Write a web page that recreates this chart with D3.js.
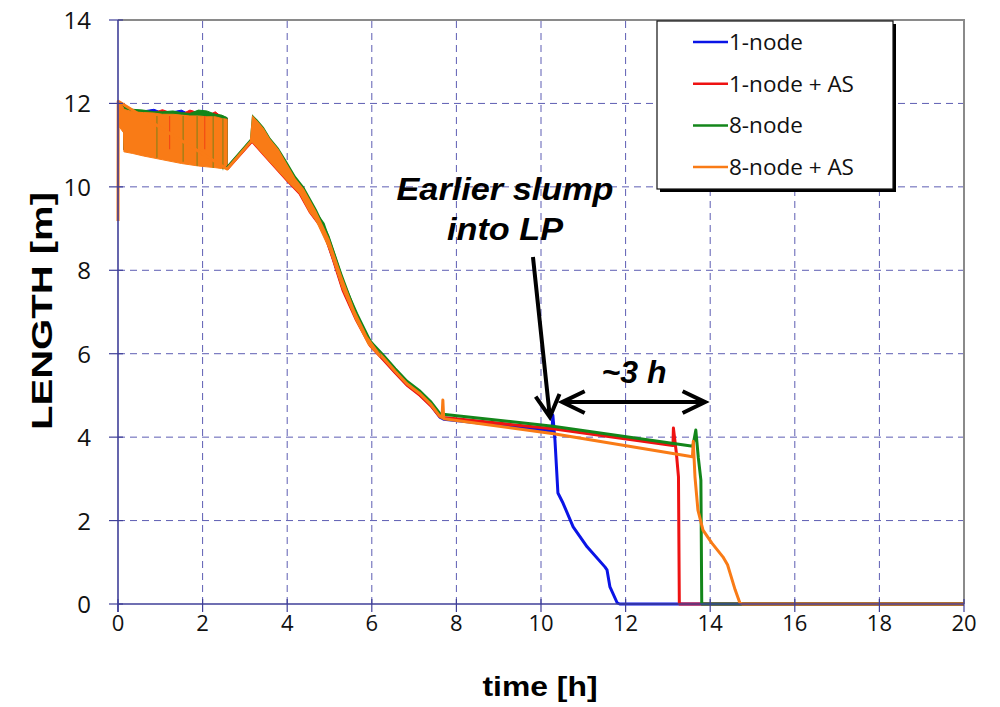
<!DOCTYPE html>
<html>
<head>
<meta charset="utf-8">
<script src="https://cdn.jsdelivr.net/npm/d3@7"></script>
<style>
  body { margin: 0; background: #fff; }
  svg { display: block; }
</style>
</head>
<body>
<svg id="chart" width="1000" height="707"></svg>
<script>
// ---------------- data ----------------
const xTicks = [0, 2, 4, 6, 8, 10, 12, 14, 16, 18, 20];
const yTicks = [0, 2, 4, 6, 8, 10, 12, 14];

const seriesNames  = ["1-node", "1-node + AS", "8-node", "8-node + AS"];
const seriesColors = ["#0a14e6", "#ee1212", "#13861a", "#f97b16"];

// oscillating start (0 - 2.6 h): envelope of the sawtooth, per series
const bandT      = [0.00, 0.02, 0.13, 0.14, 0.35, 0.6, 0.85, 1.05, 1.3, 1.5, 1.7, 1.9, 2.1, 2.3, 2.45, 2.58];
const bandTopB   = [12.05, 12.06, 11.95, 11.9, 11.84, 11.82, 11.86, 11.78, 11.8, 11.84, 11.74, 11.76, 11.7, 11.72, 11.66, 11.65];
const bandTopR   = [12.05, 12.05, 11.93, 11.9, 11.83, 11.8, 11.78, 11.85, 11.76, 11.74, 11.84, 11.78, 11.7, 11.8, 11.68, 11.64];
const bandTopG   = [12.05, 12.05, 11.94, 11.92, 11.86, 11.84, 11.8, 11.8, 11.82, 11.78, 11.76, 11.84, 11.82, 11.74, 11.72, 11.66];
const bandTopO   = [12.06, 12.05, 11.9, 11.86, 11.8, 11.78, 11.77, 11.74, 11.74, 11.72, 11.7, 11.7, 11.68, 11.68, 11.64, 11.62];
const bandBotO   = [11.5, 11.45, 11.3, 10.84, 10.8, 10.74, 10.69, 10.65, 10.6, 10.56, 10.53, 10.5, 10.48, 10.46, 10.44, 10.43];

// darker vertical strokes through the oscillating band (8-node / 1-node + AS)
const spikeT     = [0.92, 1.22, 1.54, 1.87, 2.05, 2.25, 2.48];
const spikeLow   = [10.7, 10.9, 10.6, 10.5, 10.9, 10.45, 10.4];
const spikeSer   = [2, 1, 2, 2, 1, 2, 2];

// sawtooth band after the peak (3.1 - 6.2 h)
const peakT      = [3.12, 3.17, 3.3, 3.45, 3.6, 3.8, 4.0, 4.2, 4.4, 4.7, 5.0, 5.3, 5.6, 5.9, 6.2];
const peakTop    = [11.15, 11.72, 11.58, 11.4, 11.15, 10.9, 10.55, 10.2, 9.95, 9.4, 8.75, 7.85, 7.05, 6.42, 6.0];
const peakTopG   = [11.15, 11.74, 11.61, 11.43, 11.18, 10.93, 10.6, 10.26, 10.0, 9.46, 8.82, 7.92, 7.1, 6.45, 6.02];
const peakBot    = [11.08, 11.1, 10.96, 10.8, 10.64, 10.44, 10.18, 9.96, 9.74, 9.15, 8.5, 7.6, 6.85, 6.25, 5.92];

// main curves after the oscillating start: [time h, length m]
const line1node = [
  [2.58, 10.45], [3.17, 11.12], [3.5, 10.76], [4.0, 10.2], [4.3, 9.88], [4.54, 9.44],
  [4.85, 9.0], [5.09, 8.28], [5.32, 7.56], [5.64, 6.84], [5.96, 6.22], [6.27, 5.88],
  [6.55, 5.56], [6.83, 5.26], [7.14, 5.02], [7.4, 4.76], [7.61, 4.48], [7.7, 4.43],
  [10.26, 4.15], [10.28, 4.53], [10.33, 3.93], [10.40, 2.66], [10.52, 2.42],
  [10.76, 1.85], [11.09, 1.37], [11.51, 0.89], [11.56, 0.82], [11.63, 0.41],
  [11.80, 0.03], [11.86, 0], [20, 0]
];
const line1nodeAS = [
  [2.58, 10.43], [3.17, 11.1], [3.5, 10.72], [4.0, 10.16], [4.3, 9.84], [4.54, 9.4],
  [4.85, 8.98], [5.09, 8.26], [5.32, 7.52], [5.64, 6.8], [5.96, 6.2], [6.27, 5.86],
  [6.55, 5.55], [6.83, 5.25], [7.14, 5.0], [7.4, 4.75], [7.61, 4.49], [7.7, 4.47],
  [10.28, 4.2], [13.12, 3.8], [13.13, 4.22], [13.2, 3.62], [13.25, 3.05],
  [13.27, 0], [20, 0]
];
const line8node = [
  [2.58, 10.46], [3.17, 11.15], [3.5, 10.8], [4.0, 10.28], [4.3, 9.98], [4.54, 9.55],
  [4.85, 9.12], [5.09, 8.42], [5.32, 7.7], [5.64, 6.96], [5.96, 6.3], [6.27, 5.96],
  [6.55, 5.64], [6.83, 5.34], [7.14, 5.1], [7.4, 4.84], [7.61, 4.56], [7.68, 4.55],
  [10.28, 4.26], [13.59, 3.78], [13.66, 4.17], [13.72, 3.5], [13.78, 2.97],
  [13.80, 0], [20, 0]
];
const line8nodeAS = [
  [0.0, 9.18], [0.005, 12.05],
  [2.58, 10.43], [3.17, 11.12], [3.5, 10.74], [4.0, 10.18], [4.3, 9.88], [4.54, 9.42],
  [4.85, 9.02], [5.09, 8.3], [5.32, 7.58], [5.64, 6.86], [5.96, 6.24], [6.27, 5.9],
  [6.55, 5.58], [6.83, 5.28], [7.14, 5.04], [7.4, 4.78], [7.61, 4.5], [7.66, 4.47],
  [7.68, 4.89], [7.70, 4.44], [10.3, 4.08], [13.58, 3.53], [13.6, 3.9], [13.64, 3.05],
  [13.71, 2.25], [13.83, 1.77], [14.04, 1.46], [14.30, 1.13], [14.41, 0.94],
  [14.47, 0.74], [14.59, 0.34], [14.70, 0.03], [14.76, 0], [20, 0]
];

// annotations, in data units
const slumpArrow  = [[9.81, 8.32], [10.21, 4.48]];
const spanArrow   = [[10.5, 4.84], [13.88, 4.84]];
const slumpText   = ["Earlier slump", "into LP"];
const slumpTextAt = [[9.15, 9.69], [9.15, 8.73]];
const slumpTextW  = [217, 116];
const spanText    = "~3 h";
const spanTextAt  = [12.2, 5.3];

// ------------------- layout -------------------
const svg = d3.select("#chart");
const width = 1000, height = 707;
const margin = {left: 118, right: 36, top: 20, bottom: 103};

const x = d3.scaleLinear().domain([0, 20]).range([margin.left, width - margin.right]);
const y = d3.scaleLinear().domain([0, 14]).range([height - margin.bottom, margin.top]);

const gridColor = "#5d5db3";
const axisColor = "#3f3f98";

// gridlines
svg.append("g").selectAll("line.vg")
  .data(xTicks.filter(d => d > 0 && d < 20))
  .enter().append("line")
    .attr("x1", d => x(d)).attr("x2", d => x(d))
    .attr("y1", y(0)).attr("y2", y(14))
    .attr("stroke", gridColor).attr("stroke-width", 1)
    .attr("stroke-dasharray", "7,5");

svg.append("g").selectAll("line.hg")
  .data(yTicks.filter(d => d > 0 && d < 14))
  .enter().append("line")
    .attr("x1", x(0)).attr("x2", x(20))
    .attr("y1", d => y(d)).attr("y2", d => y(d))
    .attr("stroke", gridColor).attr("stroke-width", 1)
    .attr("stroke-dasharray", "7,5");

// top + right frame (grey)
svg.append("path")
  .attr("d", "M" + x(0) + "," + y(14) + "H" + x(20) + "V" + y(0))
  .attr("fill", "none").attr("stroke", "#8a8a8a").attr("stroke-width", 2);

// ------------------- data marks -------------------
const area = d3.area()
  .x(d => x(d[0])).y0(d => y(d[1])).y1(d => y(d[2]));
const line = d3.line()
  .x(d => x(d[0])).y(d => y(d[1]));

const bandTops = [bandTopB, bandTopR, bandTopG, bandTopO];
const lines = [line1node, line1nodeAS, line8node, line8nodeAS];
const plot = svg.append("g");

// oscillating band, drawn per series so the under-lying ones peek out on top
bandTops.forEach(function(tops, i) {
  plot.append("path")
    .datum(bandT.map((t, k) => [t, bandBotO[k] + (i < 3 ? 0.05 : 0), tops[k]]))
    .attr("d", area)
    .attr("fill", seriesColors[i])
    .attr("stroke", seriesColors[i]).attr("stroke-width", 1);
});

// spikes through the band
plot.selectAll("line.spike")
  .data(spikeT.map((t, k) => ({t: t, low: spikeLow[k], s: spikeSer[k]})))
  .enter().append("line")
    .attr("x1", d => x(d.t)).attr("x2", d => x(d.t))
    .attr("y1", d => y(11.7)).attr("y2", d => y(d.low))
    .attr("stroke", d => seriesColors[d.s])
    .attr("stroke-width", 1.2).attr("opacity", 0.45);

// main curves
plot.selectAll("path.series")
  .data(lines)
  .enter().append("path")
    .attr("class", "series")
    .attr("d", line)
    .attr("fill", "none")
    .attr("stroke", (d, i) => seriesColors[i])
    .attr("stroke-width", 3)
    .attr("stroke-linejoin", "round");

// sawtooth band after the peak, on top of the lines (as in the picture)
plot.append("path")
  .datum(peakT.map((t, k) => [t, peakBot[k], peakTopG[k]]))
  .attr("d", area).attr("fill", seriesColors[2]);
plot.append("path")
  .datum(peakT.map((t, k) => [t, peakBot[k] - 0.03, peakTop[k]]))
  .attr("d", area).attr("fill", seriesColors[3]);

// ------------------- axes -------------------
svg.append("line")
  .attr("x1", x(0)).attr("x2", x(20)).attr("y1", y(0)).attr("y2", y(0))
  .attr("stroke", axisColor).attr("stroke-width", 1.6);
svg.append("line")
  .attr("x1", x(0)).attr("x2", x(0)).attr("y1", y(0) + 8).attr("y2", y(14))
  .attr("stroke", axisColor).attr("stroke-width", 1.6);

svg.append("g").selectAll("line")
  .data(xTicks).enter().append("line")
    .attr("x1", d => x(d)).attr("x2", d => x(d))
    .attr("y1", y(0) - 5).attr("y2", y(0) + 8)
    .attr("stroke", axisColor).attr("stroke-width", 1.2);
svg.append("g").selectAll("line")
  .data(yTicks).enter().append("line")
    .attr("x1", x(0) - 9).attr("x2", x(0) + 5)
    .attr("y1", d => y(d)).attr("y2", d => y(d))
    .attr("stroke", axisColor).attr("stroke-width", 1.2);

const tickFont = "'Open Sans', 'Noto Sans', sans-serif";
svg.append("g").selectAll("text")
  .data(xTicks).enter().append("text")
    .attr("x", d => x(d)).attr("y", y(0) + 27)
    .attr("text-anchor", "middle")
    .style("font-family", tickFont).style("font-size", "22px").style("fill", "#111")
    .text(d => d);
svg.append("g").selectAll("text")
  .data(yTicks).enter().append("text")
    .attr("x", x(0) - 27).attr("y", d => y(d) + 9)
    .attr("text-anchor", "end")
    .style("font-family", tickFont).style("font-size", "24px").style("fill", "#111")
    .text(d => d);

const titleFont = "'Liberation Sans', Arial, sans-serif";
svg.append("text")
  .attr("x", 540).attr("y", 696)
  .attr("text-anchor", "middle")
  .attr("textLength", 115).attr("lengthAdjust", "spacingAndGlyphs")
  .style("font-family", titleFont).style("font-weight", "bold").style("font-size", "28px")
  .text("time [h]");
svg.append("text")
  .attr("transform", "translate(52,311) rotate(-90)")
  .attr("text-anchor", "middle")
  .attr("textLength", 238).attr("lengthAdjust", "spacingAndGlyphs")
  .style("font-family", titleFont).style("font-weight", "bold").style("font-size", "30px")
  .text("LENGTH [m]");

// ------------------- legend -------------------
const legend = svg.append("g").attr("transform", "translate(657,21)");
legend.append("rect")
  .attr("x", 3).attr("y", 3).attr("width", 236).attr("height", 168)
  .attr("fill", "#000");
legend.append("rect")
  .attr("x", 0).attr("y", 0).attr("width", 236).attr("height", 168)
  .attr("fill", "#fff").attr("stroke", "#111").attr("stroke-width", 1.2);
const item = legend.selectAll("g.item")
  .data(seriesNames).enter().append("g")
    .attr("transform", (d, i) => "translate(0," + (21 + i * 41.7) + ")");
item.append("line")
  .attr("x1", 36).attr("x2", 71).attr("y1", 0).attr("y2", 0)
  .attr("stroke", (d, i) => seriesColors[i]).attr("stroke-width", 2.5);
item.append("text")
  .attr("x", 72).attr("y", 8)
  .style("font-family", tickFont).style("font-size", "22.5px").style("fill", "#111")
  .text(d => d);

// ------------------- annotations -------------------
const ann = svg.append("g");
const annFont = "'Liberation Sans', Arial, sans-serif";
ann.selectAll("text.slump")
  .data(slumpText).enter().append("text")
    .attr("x", (d, i) => x(slumpTextAt[i][0])).attr("y", (d, i) => y(slumpTextAt[i][1]))
    .attr("text-anchor", "middle")
    .attr("textLength", (d, i) => slumpTextW[i]).attr("lengthAdjust", "spacingAndGlyphs")
    .style("font-family", annFont).style("font-weight", "bold").style("font-style", "italic")
    .style("font-size", "31px")
    .text(d => d);
ann.append("text")
  .attr("x", x(spanTextAt[0])).attr("y", y(spanTextAt[1]))
  .attr("text-anchor", "middle")
  .attr("textLength", 65).attr("lengthAdjust", "spacingAndGlyphs")
  .style("font-family", annFont).style("font-weight", "bold").style("font-style", "italic")
  .style("font-size", "31px")
  .text(spanText);

function arrowHead(tip, from, len, spread) {
  const a = Math.atan2(from[1] - tip[1], from[0] - tip[0]);
  const p1 = [tip[0] + len * Math.cos(a + spread), tip[1] + len * Math.sin(a + spread)];
  const p2 = [tip[0] + len * Math.cos(a - spread), tip[1] + len * Math.sin(a - spread)];
  return "M" + p1 + "L" + tip + "L" + p2;
}
const sa = slumpArrow.map(d => [x(d[0]), y(d[1])]);
const pa = spanArrow.map(d => [x(d[0]), y(d[1])]);
ann.append("path")
  .attr("d", "M" + sa[0] + "L" + sa[1] + arrowHead(sa[1], sa[0], 25, 0.5))
  .attr("fill", "none").attr("stroke", "#000").attr("stroke-width", 4)
  .attr("stroke-linejoin", "miter");
ann.append("path")
  .attr("d", "M" + pa[0] + "L" + pa[1] + arrowHead(pa[1], pa[0], 25, 0.45) + arrowHead(pa[0], pa[1], 25, 0.45))
  .attr("fill", "none").attr("stroke", "#000").attr("stroke-width", 4)
  .attr("stroke-linejoin", "miter");
</script>
</body>
</html>
